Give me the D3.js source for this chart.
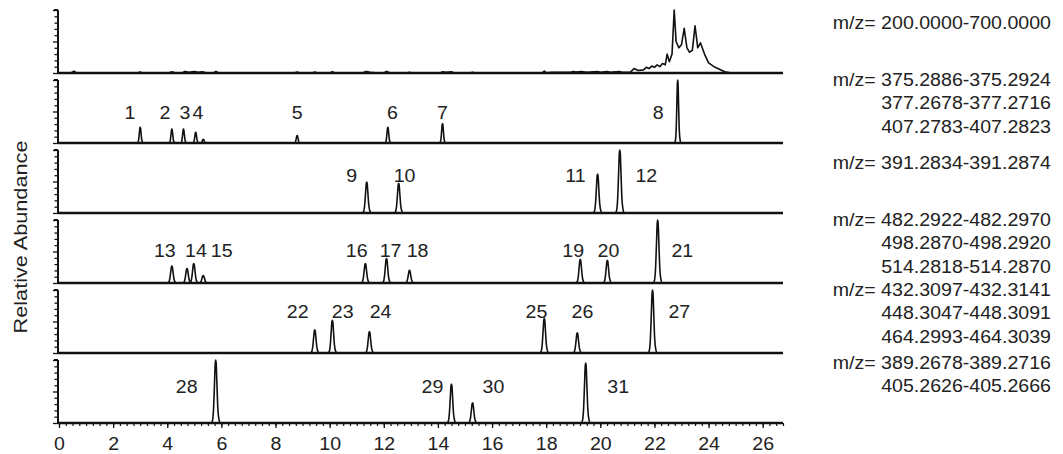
<!DOCTYPE html>
<html>
<head>
<meta charset="utf-8">
<script src="https://cdn.jsdelivr.net/npm/d3@7"></script>
<style>
  html, body { margin: 0; padding: 0; background: #fff; }
  svg { display: block; font-family: "Liberation Sans", Arial, sans-serif; }
  .lbl { font-size: 17.5px; fill: #222; }
</style>
</head>
<body>
<svg id="chart" width="1063" height="454"></svg>
<script>
// retention time ticks
const xMajorTicks = d3.range(0, 27, 2);
const xMinorTicks = d3.range(0, 26.76, 0.25);

// total ion chromatogram, m/z 200-700 (time, relative abundance)
const ticTrace = [
  [0, 0], [0.45, 0], [0.55, 0.03], [0.65, 0], [2.9, 0], [3.0, 0.015], [3.1, 0],
  [4.05, 0], [4.17, 0.02], [4.3, 0], [4.55, 0], [4.65, 0.025], [4.8, 0.01], [5.0, 0.025],
  [5.15, 0.01], [5.3, 0.02], [5.45, 0], [5.7, 0], [5.8, 0.025], [5.9, 0],
  [8.7, 0], [8.8, 0.015], [8.9, 0], [9.35, 0], [9.45, 0.015], [9.55, 0],
  [10.0, 0], [10.1, 0.02], [10.2, 0], [11.2, 0], [11.35, 0.025], [11.5, 0.01], [11.8, 0],
  [12.0, 0], [12.1, 0.025], [12.25, 0], [12.85, 0], [12.95, 0.012], [13.05, 0],
  [14.1, 0], [14.17, 0.02], [14.3, 0.01], [14.5, 0.02], [14.6, 0], [15.2, 0], [15.28, 0.012], [15.35, 0],
  [17.85, 0], [17.93, 0.03], [18.0, 0.005], [18.2, 0.012], [18.9, 0.012], [19.0, 0.025], [19.1, 0.015],
  [19.3, 0.022], [19.5, 0.01], [19.9, 0.022], [20.0, 0.01], [20.26, 0.022], [20.35, 0.01],
  [20.7, 0.022], [20.8, 0.01], [21.1, 0.012], [21.25, 0.07], [21.4, 0.04], [21.6, 0.05],
  [21.7, 0.09], [21.8, 0.07], [21.9, 0.11], [22.0, 0.09], [22.1, 0.13], [22.2, 0.1],
  [22.3, 0.15], [22.4, 0.13], [22.47, 0.3], [22.55, 0.18], [22.65, 0.3], [22.73, 1.0],
  [22.8, 0.5], [22.9, 0.4], [23.0, 0.45], [23.1, 0.71], [23.2, 0.4], [23.3, 0.33],
  [23.4, 0.36], [23.5, 0.75], [23.6, 0.4], [23.7, 0.48], [23.85, 0.3], [24.0, 0.16],
  [24.2, 0.1], [24.4, 0.06], [24.6, 0.02], [24.8, 0.005], [25.0, 0], [26.75, 0]
];

// extracted ion chromatogram peaks: [retention time, relative abundance]
const peaks2 = [[3.0, 0.25], [4.17, 0.22], [4.6, 0.22], [5.05, 0.17], [5.33, 0.06],
  [8.8, 0.12], [12.15, 0.25], [14.17, 0.31], [22.86, 1.0]];
const peaks3 = [[11.37, 0.49], [12.55, 0.47], [19.9, 0.62], [20.72, 1.0]];
const peaks4 = [[4.17, 0.27], [4.73, 0.23], [4.98, 0.31], [5.33, 0.12], [11.32, 0.31],
  [12.1, 0.39], [12.95, 0.2], [19.26, 0.375], [20.26, 0.36], [22.12, 1.0]];
const peaks5 = [[9.45, 0.37], [10.1, 0.52], [11.47, 0.34], [17.93, 0.55], [19.15, 0.32], [21.93, 1.0]];
const peaks6 = [[5.79, 1.0], [14.5, 0.62], [15.28, 0.32], [19.46, 0.95]];

// peak numbers: [label, retention time of label centre]
const labels2 = [["1", 2.62], ["2", 3.91], ["3", 4.65], ["4", 5.13], ["5", 8.8],
  ["6", 12.32], ["7", 14.17], ["8", 22.14]];
const labels3 = [["9", 10.81], ["10", 12.77], ["11", 19.08], ["12", 21.7]];
const labels4 = [["13", 3.91], ["14", 5.06], ["15", 6.01], ["16", 11.0], ["17", 12.25],
  ["18", 13.25], ["19", 19.0], ["20", 20.3], ["21", 23.03]];
const labels5 = [["22", 8.82], ["23", 10.48], ["24", 11.88], ["25", 17.64], ["26", 19.34], ["27", 22.92]];
const labels6 = [["28", 4.72], ["29", 13.8], ["30", 16.05], ["31", 20.66]];
// relative abundance level of the label baseline in each panel
const labelLevels = [null, 0.375, 0.49, 0.41, 0.55, 0.48];

// extraction windows
const mzRanges = [
  ["200.0000-700.0000"],
  ["375.2886-375.2924", "377.2678-377.2716", "407.2783-407.2823"],
  ["391.2834-391.2874"],
  ["482.2922-482.2970", "498.2870-498.2920", "514.2818-514.2870"],
  ["432.3097-432.3141", "448.3047-448.3091", "464.2993-464.3039"],
  ["389.2678-389.2716", "405.2626-405.2666"]
];

const peakSets = [null, peaks2, peaks3, peaks4, peaks5, peaks6];
const labelSets = [null, labels2, labels3, labels4, labels5, labels6];

// layout
const left = 58, right = 783;
const firstBase = 73, pitch = 70, panelH = 63;
const textRight = 1051, lineStep = 23.3;
const mzOffset = { 1: 18.5, 2: 9, 3: 6 };
const stretch = 1.12; // glyphs in the figure are a bit wider than Arial

const svg = d3.select("#chart");
const x = d3.scaleLinear().domain([0, 26.75]).range([59, 783]);

// place a text at (px, py) with the horizontal stretch of the original
function put(sel, px, py) {
  return sel.attr("x", null).attr("y", null)
    .attr("transform", `translate(${px},${py}) scale(${stretch},1)`);
}

// peak outline template (fraction of half-width, fraction of height)
const shape = [[-1, 0], [-0.7, 0.04], [-0.45, 0.25], [-0.25, 0.65], [-0.1, 0.95], [0, 1],
  [0.1, 0.95], [0.25, 0.65], [0.45, 0.25], [0.7, 0.06], [1, 0]];

mzRanges.forEach((ranges, i) => {
  const base = firstBase + pitch * i;
  const top = base - panelH;
  const y = d3.scaleLinear().domain([0, 1]).range([base, top]);
  const g = svg.append("g");

  // y axis with minor ticks
  const yAxis = d3.axisLeft(y).tickValues(d3.range(0, 1.01, 0.1))
    .tickSize(3).tickFormat("");
  const ya = g.append("g").attr("transform", `translate(${left},0)`).call(yAxis);
  ya.select(".domain").remove();
  ya.selectAll(".tick line").attr("stroke", "#111").attr("stroke-width", 1.3)
    .attr("x2", (d, k) => (k % 5 === 0 ? -5 : -3.5));
  g.append("line").attr("x1", left).attr("x2", left).attr("y1", top).attr("y2", base)
    .attr("stroke", "#111").attr("stroke-width", 2);
  g.append("line").attr("x1", left - 4).attr("x2", left).attr("y1", top).attr("y2", top)
    .attr("stroke", "#111").attr("stroke-width", 2);

  // trace
  let pts;
  if (i === 0) {
    pts = ticTrace;
  } else {
    const hw = i === 1 ? 0.12 : 0.17;
    pts = [[0, 0]];
    peakSets[i].forEach(([t, h]) => {
      shape.forEach(([f, s]) => pts.push([t + f * hw, h * s]));
    });
    pts.push([26.75, 0]);
  }
  const line = d3.line().x(d => x(d[0])).y(d => y(d[1]))
    .curve(i === 0 ? d3.curveLinear : d3.curveMonotoneX);
  g.append("path").datum(pts).attr("d", line)
    .attr("fill", "none").attr("stroke", "#111").attr("stroke-width", 1.6)
    .attr("stroke-linejoin", "round");

  // baseline
  g.append("line").attr("x1", left).attr("x2", right).attr("y1", base).attr("y2", base)
    .attr("stroke", "#111").attr("stroke-width", 2.5);

  // peak numbers
  if (labelSets[i]) {
    g.selectAll("text.num").data(labelSets[i]).join("text")
      .attr("class", "lbl num")
      .attr("text-anchor", "middle")
      .text(d => d[0])
      .each(function(d) { put(d3.select(this), x(d[1]), y(labelLevels[i])); });
  }

  // m/z windows
  const y0 = top + mzOffset[ranges.length];
  ranges.forEach((r, k) => {
    put(g.append("text").attr("class", "lbl")
      .attr("text-anchor", "end")
      .text(k === 0 ? "m/z= " + r : r), textRight, y0 + k * lineStep);
  });
});

// bottom time axis
const lastBase = firstBase + pitch * 5;
const xMinor = d3.axisBottom(x).tickValues(xMinorTicks).tickSize(3).tickFormat("");
const xm = svg.append("g").attr("transform", `translate(0,${lastBase})`).call(xMinor);
xm.select(".domain").remove();
xm.selectAll(".tick line").attr("stroke", "#111").attr("stroke-width", 1.2);

const xMajor = d3.axisBottom(x).tickValues(xMajorTicks).tickSize(5).tickPadding(10)
  .tickFormat(d3.format("d"));
const xa = svg.append("g").attr("transform", `translate(0,${lastBase})`).call(xMajor);
xa.select(".domain").remove();
xa.selectAll(".tick line").attr("stroke", "#111").attr("stroke-width", 1.3);
xa.selectAll(".tick text").attr("class", "lbl").attr("font-size", null)
  .attr("font-family", null).attr("fill", "#222").attr("dy", null)
  .each(function() { put(d3.select(this), 0, 27); });
xa.attr("font-size", null).attr("font-family", null);

// y label
svg.append("text").attr("class", "lbl")
  .attr("transform", "translate(27,237) rotate(-90) scale(1.24,1)")
  .attr("text-anchor", "middle")
  .text("Relative Abundance");
</script>
</body>
</html>
